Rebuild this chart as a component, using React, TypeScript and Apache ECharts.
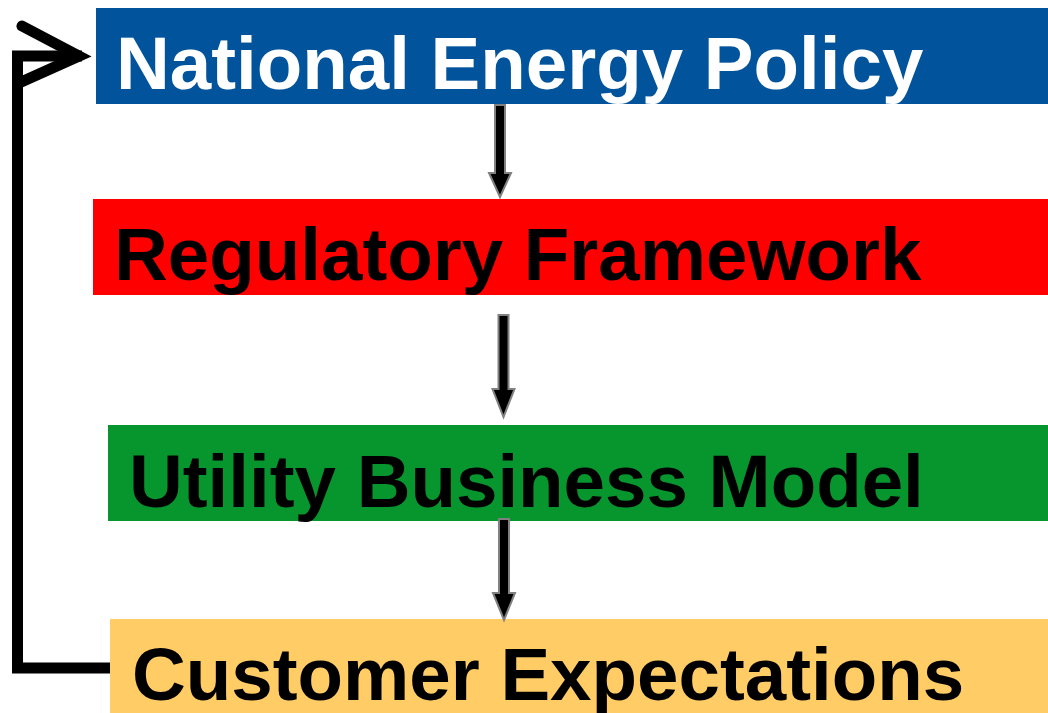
import React, { useEffect, useRef } from "react";
import * as echarts from "echarts";

const stageLabels = [
  "National Energy Policy",
  "Regulatory Framework",
  "Utility Business Model",
  "Customer Expectations",
];
const stageFills = ["#01539C", "#FF0000", "#07962D", "#FFCC66"];
const stageTextColors = ["#FFFFFF", "#000000", "#000000", "#000000"];

// layout (pixels)
const boxLeft = [96, 93, 108, 110];
const boxTop = [8, 199, 425, 619];
const boxHeight = 96;
const textX = [116, 114, 129, 132];
const textBaseline = [90, 281, 508, 701];
const baselineOffset = 64;

const arrowDefs = [
  { cx: 500, top: 105, headStart: 173, tip: 197 },
  { cx: 503.5, top: 315, headStart: 389, tip: 417 },
  { cx: 504, top: 519, headStart: 593, tip: 620 },
];

function arrowPoints(a: { cx: number; top: number; headStart: number; tip: number }) {
  const s = 5;
  const h = 11;
  return [
    [a.cx - s, a.top],
    [a.cx + s, a.top],
    [a.cx + s, a.headStart],
    [a.cx + h, a.headStart],
    [a.cx, a.tip],
    [a.cx - h, a.headStart],
    [a.cx - s, a.headStart],
  ];
}

export default function App() {
  const ref = useRef<HTMLDivElement>(null);
  useEffect(() => {
    if (!ref.current) return;
    const chart = echarts.init(ref.current, undefined, { renderer: "svg" });
    const elements: any[] = [];
    stageLabels.forEach((label, i) => {
      elements.push({
        type: "rect",
        shape: { x: boxLeft[i], y: boxTop[i], width: 1048 - boxLeft[i], height: boxHeight },
        style: { fill: stageFills[i] },
        z: 1,
      });
      elements.push({
        type: "text",
        x: textX[i],
        y: textBaseline[i] - baselineOffset,
        z: 3,
        style: {
          text: label,
          fill: stageTextColors[i],
          font: 'bold 74.5px "Liberation Sans", Arial, sans-serif',
          verticalAlign: "top",
          align: "left",
        },
      });
    });
    arrowDefs.forEach((a) => {
      elements.push({
        type: "polygon",
        z: 2,
        shape: { points: arrowPoints(a) },
        style: { fill: "#000000", stroke: "#808080", lineWidth: 2 },
      });
    });
    // feedback loop
    elements.push({
      type: "polyline",
      z: 2,
      shape: { points: [[110, 668], [17.5, 668], [17.5, 56], [82, 56]] },
      style: { stroke: "#000000", lineWidth: 11, fill: null, lineJoin: "miter", lineCap: "butt" },
    });
    elements.push({
      type: "polyline",
      z: 2,
      shape: { points: [[22, 26], [79, 56], [19, 83]] },
      style: { stroke: "#000000", lineWidth: 11, fill: null, lineJoin: "miter", lineCap: "round", miterLimit: 10 },
    });
    chart.setOption({
      animation: false,
      backgroundColor: "#FFFFFF",
      graphic: { elements },
    });
    return () => chart.dispose();
  }, []);
  return (
    <div
      ref={ref}
      style={{ position: "absolute", left: 0, top: 0, width: 1048, height: 713 }}
    />
  );
}
